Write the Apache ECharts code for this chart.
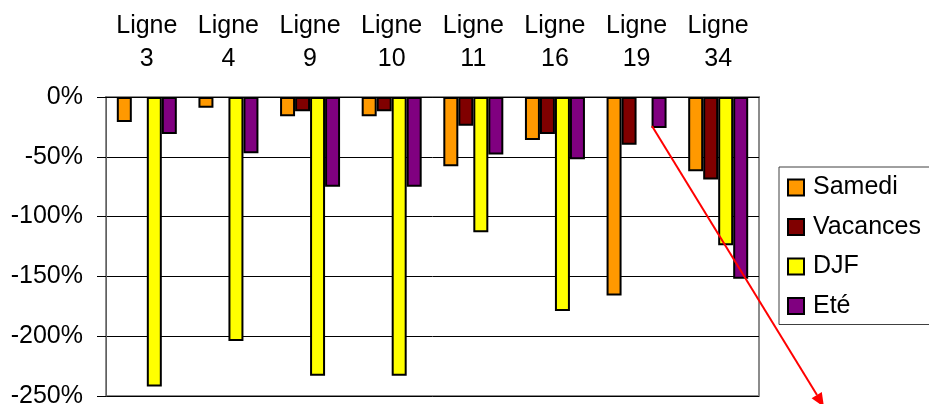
<!DOCTYPE html>
<html>
<head>
<meta charset="utf-8">
<script src="https://cdn.jsdelivr.net/npm/echarts@6/dist/echarts.min.js"></script>
<style>
  html, body { margin: 0; padding: 0; background: #fff; }
  #chart { width: 929px; height: 404px; }
</style>
</head>
<body>
<div id="chart"></div>
<script>
const lignes = ['Ligne\n3', 'Ligne\n4', 'Ligne\n9', 'Ligne\n10', 'Ligne\n11', 'Ligne\n16', 'Ligne\n19', 'Ligne\n34']
const samedi = [-21, -9, -16, -16, -58, -36, -166, -62]
const vacances = [null, null, -12, -12, -24, -31, -40, -69]
const djf = [-242, -204, -233, -233, -113, -179, null, -124]
const ete = [-31, -47, -75, -75, -48, -52, -26, -152]

const font = '"Liberation Sans", Arial, sans-serif'

function barSerie(name, color, data) {
  return {
    name: name,
    type: 'bar',
    barWidth: 15,
    barGap: '0%',
    itemStyle: { color: color, borderColor: '#000', borderWidth: 2 },
    data: data
  }
}

const chart = echarts.init(document.getElementById('chart'))
chart.setOption({
  animation: false,
  textStyle: { fontFamily: font },
  grid: {
    left: 106, right: 170, top: 97, bottom: 8,
    containLabel: false,
    outerBoundsMode: 'none',
    show: true, borderColor: '#8c8c8c', borderWidth: 2
  },
  legend: {
    orient: 'vertical',
    left: 779,
    top: 167,
    padding: [8, 40, 6, 8],
    itemWidth: 16,
    itemHeight: 16,
    itemGap: 14.5,
    icon: 'rect',
    borderColor: '#404040',
    borderWidth: 1,
    textStyle: { fontSize: 25, color: '#000', fontFamily: font, padding: [0, 0, 0, 4] }
  },
  xAxis: {
    type: 'category',
    position: 'top',
    data: lignes,
    axisLine: { lineStyle: { color: '#000', width: 1 } },
    axisTick: { inside: true, length: 7, lineStyle: { color: '#000' } },
    axisLabel: { fontSize: 25, lineHeight: 33, color: '#000', margin: 21, interval: 0 }
  },
  yAxis: {
    type: 'value',
    min: -250,
    max: 0,
    interval: 50,
    axisLine: { show: true, lineStyle: { color: '#606060' } },
    axisTick: { show: true, length: 9, lineStyle: { color: '#000' } },
    axisLabel: { fontSize: 25, color: '#000', margin: 23, formatter: '{value}%' },
    splitLine: { lineStyle: { color: '#000', width: 1 } }
  },
  series: [
    barSerie('Samedi', '#ff9900', samedi),
    barSerie('Vacances', '#800000', vacances),
    barSerie('DJF', '#ffff00', djf),
    barSerie('Eté', '#800080', ete)
  ],
  graphic: [
    {
      type: 'line',
      z: 100,
      shape: { x1: 652, y1: 126, x2: 817, y2: 395 },
      style: { stroke: '#ff0000', lineWidth: 2 }
    },
    {
      type: 'polygon',
      z: 100,
      shape: { points: [[824, 407], [811.6, 398.2], [821.8, 392]] },
      style: { fill: '#ff0000' }
    }
  ]
})
</script>
</body>
</html>
